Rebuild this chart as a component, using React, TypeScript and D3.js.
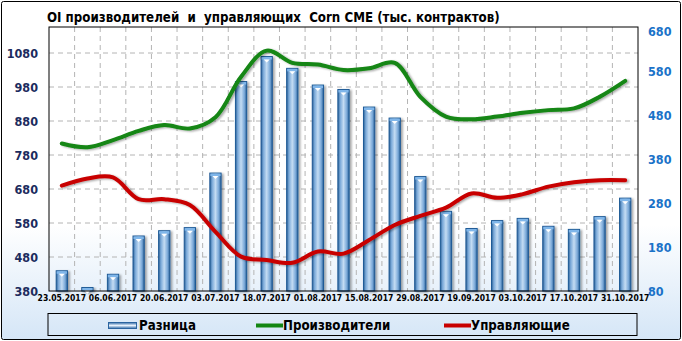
import React from "react";
import * as d3 from "d3";

const dates = [
  "23.05.2017", "30.05.2017", "06.06.2017", "13.06.2017", "20.06.2017", "27.06.2017",
  "03.07.2017", "11.07.2017", "18.07.2017", "25.07.2017", "01.08.2017", "08.08.2017",
  "15.08.2017", "22.08.2017", "29.08.2017", "12.09.2017", "19.09.2017", "26.09.2017",
  "03.10.2017", "10.10.2017", "17.10.2017", "24.10.2017", "31.10.2017",
];
const producers = [814, 803, 824, 851, 868, 858, 891, 1010, 1087, 1051, 1046, 1030, 1035, 1051, 951, 893, 885, 893, 904, 912, 917, 951, 998];
const managers = [690, 711, 714, 650, 650, 633, 554, 481, 471, 463, 496, 490, 530, 574, 601, 625, 667, 654, 665, 687, 700, 706, 706];
const difference = [126, 88, 118, 205, 217, 224, 348, 556, 613, 586, 548, 538, 498, 473, 340, 261, 222, 240, 245, 227, 220, 249, 291];
const leftTicks = [380, 480, 580, 680, 780, 880, 980, 1080];
const rightTicks = [80, 180, 280, 380, 480, 580, 680];
const title = "OI производителей  и  управляющих  Corn CME (тыс. контрактов)";
const legendLabels = ["Разница", "Производители", "Управляющие"];

const W = 682, H = 341;
const X0 = 49, X1 = 638, Y0 = 27, Y1 = 291;
const FONT = "'DejaVu Sans Condensed', 'DejaVu Sans', sans-serif";

export default function App() {
  const x = d3.scaleBand<string>().domain(dates).range([X0, X1]).padding(0);
  const yL = d3.scaleLinear().domain([380, 1156.5]).range([Y1, Y0]);
  const yR = d3.scaleLinear().domain([80, 680]).range([Y1, Y0]);
  const bw = x.bandwidth() * 0.44;
  const cx = (d: string) => (x(d) as number) + x.bandwidth() / 2;

  const line = d3
    .line<number>()
    .x((_, i) => cx(dates[i]))
    .y((v) => yL(v))
    .curve(d3.curveCatmullRom.alpha(0.5));

  return (
    <svg width={W} height={H} style={{ position: "absolute", left: 0, top: 0 }} fontFamily={FONT}>
      <defs>
        <linearGradient id="bg" x1="0" y1="0" x2="0" y2="1">
          <stop offset="0" stopColor="#ffffff" />
          <stop offset="0.66" stopColor="#ffffff" />
          <stop offset="1" stopColor="#d5e6f7" />
        </linearGradient>
        <linearGradient id="bar" x1="0" y1="0" x2="1" y2="0">
          <stop offset="0" stopColor="#2a5f94" />
          <stop offset="0.2" stopColor="#79a8d8" />
          <stop offset="0.5" stopColor="#c4dcf3" />
          <stop offset="0.8" stopColor="#79a8d8" />
          <stop offset="1" stopColor="#2a5f94" />
        </linearGradient>
        <linearGradient id="legbar" x1="0" y1="0" x2="0" y2="1">
          <stop offset="0" stopColor="#2f6aa6" />
          <stop offset="0.5" stopColor="#e8f2fc" />
          <stop offset="1" stopColor="#2f6aa6" />
        </linearGradient>
        <filter id="sh" x="-20%" y="-20%" width="160%" height="140%">
          <feGaussianBlur in="SourceAlpha" stdDeviation="1.2" />
          <feOffset dx="2" dy="1" />
          <feComponentTransfer>
            <feFuncA type="linear" slope="0.35" />
          </feComponentTransfer>
          <feMerge>
            <feMergeNode />
            <feMergeNode in="SourceGraphic" />
          </feMerge>
        </filter>
      </defs>

      <rect x={1.5} y={1.5} width={W - 3} height={H - 3} rx={2} fill="url(#bg)" stroke="#000" strokeWidth={1} />

      <text x={47} y={22} fontSize={13.2} fontWeight="bold" fill="#000" style={{ whiteSpace: "pre" }}>
        {title}
      </text>

      {/* grid */}
      {leftTicks.slice(1).map((t) => (
        <line key={"h" + t} x1={X0} x2={X1} y1={yL(t)} y2={yL(t)} stroke="#b4b4b4" strokeDasharray="5,4" />
      ))}
      {dates.slice(1).map((d) => (
        <line key={"v" + d} x1={x(d)} x2={x(d)} y1={Y0} y2={Y1} stroke="#b4b4b4" strokeDasharray="5,4" />
      ))}

      {/* bars */}
      {dates.map((d, i) => {
        const bx = cx(d) - bw / 2;
        const by = yR(difference[i]);
        return (
          <g key={"b" + d} filter="url(#sh)">
            <rect x={bx} y={by} width={bw} height={Y1 - by} fill="url(#bar)" stroke="#1f5a96" strokeWidth={1} />
            <rect x={bx + 0.5} y={by + 0.5} width={bw - 1} height={2.5} fill="#7fb6ea" />
            <path d={`M${cx(d) - 3},${by + 3} L${cx(d) + 3},${by + 3} L${cx(d)},${by + 6} Z`} fill="#ffffff" />
          </g>
        );
      })}

      {/* lines */}
      <path d={line(producers) as string} fill="none" stroke="#138613" strokeWidth={4} strokeLinecap="round" strokeLinejoin="round" filter="url(#sh)" />
      <path d={line(managers) as string} fill="none" stroke="#c80000" strokeWidth={4} strokeLinecap="round" strokeLinejoin="round" filter="url(#sh)" />

      {/* plot border */}
      <rect x={X0} y={Y0} width={X1 - X0} height={Y1 - Y0} fill="none" stroke="#000" strokeWidth={1} />

      {/* left axis */}
      {leftTicks.map((t) => (
        <text key={"l" + t} x={38} y={yL(t)} dy="0.36em" textAnchor="end" fontSize={12.5} fontWeight="bold" fill="#1c2b5e">
          {t}
        </text>
      ))}
      {/* right axis */}
      {rightTicks.map((t) => (
        <text key={"r" + t} x={648} y={yR(t) + (t === 680 ? 4 : 0)} dy="0.36em" textAnchor="start" fontSize={12.5} fontWeight="bold" fill="#1a72c8">
          {t}
        </text>
      ))}
      {/* x axis labels */}
      {dates.map((d, i) =>
        i % 2 === 0 ? (
          <text key={"x" + d} x={cx(d)} y={301} textAnchor="middle" fontSize={8.5} fontWeight="bold" fill="#000">
            {d}
          </text>
        ) : null
      )}

      {/* legend */}
      <rect x={48} y={313.5} width={589} height={22} fill="none" stroke="#000" strokeWidth={1} />
      <rect x={108.5} y={322.5} width={28} height={6} fill="url(#legbar)" stroke="#2a64a0" strokeWidth={1} />
      <text x={139} y={325.5} dy="0.36em" fontSize={13.2} fontWeight="bold" fill="#000">{legendLabels[0]}</text>
      <line x1={256} x2={283} y1={325.5} y2={325.5} stroke="#138613" strokeWidth={4} />
      <text x={283} y={325.5} dy="0.36em" fontSize={13.2} fontWeight="bold" fill="#000">{legendLabels[1]}</text>
      <line x1={444} x2={471} y1={325.5} y2={325.5} stroke="#c80000" strokeWidth={4} />
      <text x={471} y={325.5} dy="0.36em" fontSize={13.2} fontWeight="bold" fill="#000">{legendLabels[2]}</text>
    </svg>
  );
}
